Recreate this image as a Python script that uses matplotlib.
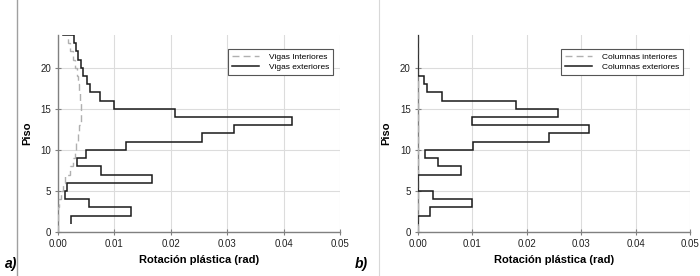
import numpy as np
import matplotlib.pyplot as plt
from matplotlib.lines import Line2D

plt.rcParams['font.family'] = ['Liberation Sans', 'DejaVu Sans']

# pisos: cada valor vale entre el piso i y el i+1
pisos_vigas = np.arange(1, 26)
vigas_ext = [0.0023, 0.0130, 0.0055, 0.0013, 0.0016, 0.0167, 0.0077, 0.0033,
             0.0049, 0.0120, 0.0255, 0.0312, 0.0414, 0.0208, 0.0100, 0.0074,
             0.0057, 0.0051, 0.0045, 0.0040, 0.0035, 0.0032, 0.0028, 0.0009]

pisos_vint = np.arange(0, 25)
vigas_int = [0.0, 0.0, 0.0, 0.0002, 0.0005, 0.0008, 0.0013, 0.0021, 0.0026,
             0.0030, 0.0032, 0.0036, 0.0038, 0.0040, 0.0040, 0.0040, 0.0039,
             0.0038, 0.0036, 0.0034, 0.0030, 0.0027, 0.0022, 0.0017]

pisos_col = np.arange(1, 25)
col_ext = [0.0001, 0.0023, 0.0100, 0.0028, 0.0, 0.0, 0.0079, 0.0038, 0.0013,
           0.0102, 0.0242, 0.0315, 0.0100, 0.0258, 0.0181, 0.0044, 0.0017,
           0.0011, 0.0, 0.0, 0.0, 0.0, 0.0]

pisos_cint = np.arange(0, 25)
col_int = [0.0] * 24

xticks = [0.00, 0.01, 0.02, 0.03, 0.04, 0.05]
yticks = [0, 5, 10, 15, 20]

fig = plt.figure(figsize=(7, 2.76), dpi=100)
ax1 = fig.add_axes([0.0829, 0.1594, 0.403, 0.714])
ax2 = fig.add_axes([0.5967, 0.1594, 0.389, 0.714])

gris = '#b0b0b0'
negro = '#1a1a1a'

paneles = [
    (ax1, pisos_vint, vigas_int, pisos_vigas, vigas_ext,
     'Vigas Interiores', 'Vigas exteriores', 'a)', 0.007),
    (ax2, pisos_cint, col_int, pisos_col, col_ext,
     'Columnas interiores', 'Columnas exteriores', 'b)', 0.507),
]

for ax, yi, vi, ye, ve, lab_i, lab_e, letra, xl in paneles:
    ax.stairs(vi, yi, orientation='horizontal', baseline=None,
              color=gris, lw=1.0, ls=(0, (5, 3)), zorder=3)
    ax.stairs(ve, ye, orientation='horizontal', baseline=None,
              color=negro, lw=1.1, zorder=4)
    ax.set_xlim(0, 0.05)
    ax.set_ylim(0, 24)
    ax.set_xticks(xticks)
    ax.set_yticks(yticks)
    ax.set_xticklabels([f'{t:.2f}' for t in xticks])
    ax.grid(True, color='#dcdcdc', lw=0.8)
    ax.set_axisbelow(True)
    for s in ['top', 'right']:
        ax.spines[s].set_visible(False)
    for s in ['left', 'bottom']:
        ax.spines[s].set_color('#808080')
        ax.spines[s].set_linewidth(1.0)
    ax.tick_params(direction='inout', length=4, width=0.8, color='#808080',
                   labelsize=7, labelcolor='#222222', pad=3)
    ax.set_xlabel('Rotación plástica (rad)', fontsize=8, fontweight='bold',
                  labelpad=4)
    ax.set_ylabel('Piso', fontsize=8, fontweight='bold', labelpad=6)
    handles = [Line2D([], [], color=gris, lw=1.0, ls=(0, (5, 3))),
               Line2D([], [], color=negro, lw=1.1)]
    leg = ax.legend(handles, [lab_i, lab_e], loc='upper right',
                    bbox_to_anchor=(0.99, 0.95), fontsize=6, frameon=True,
                    fancybox=False, edgecolor='#555555', framealpha=1,
                    handlelength=3.2, handletextpad=1.2, borderpad=0.5,
                    labelspacing=0.3)
    leg.get_frame().set_linewidth(0.8)
    fig.text(xl, 0.03, letra, fontsize=10, fontweight='bold', style='italic')

# lineas de separacion del documento
fig.add_artist(Line2D([0.024, 0.024], [0.0, 1.0], color='#a0a0a0', lw=1.0))
fig.add_artist(Line2D([0.541, 0.541], [0.0, 1.0], color='#d8d8d8', lw=0.8))

fig.savefig('out.png', dpi=100)
